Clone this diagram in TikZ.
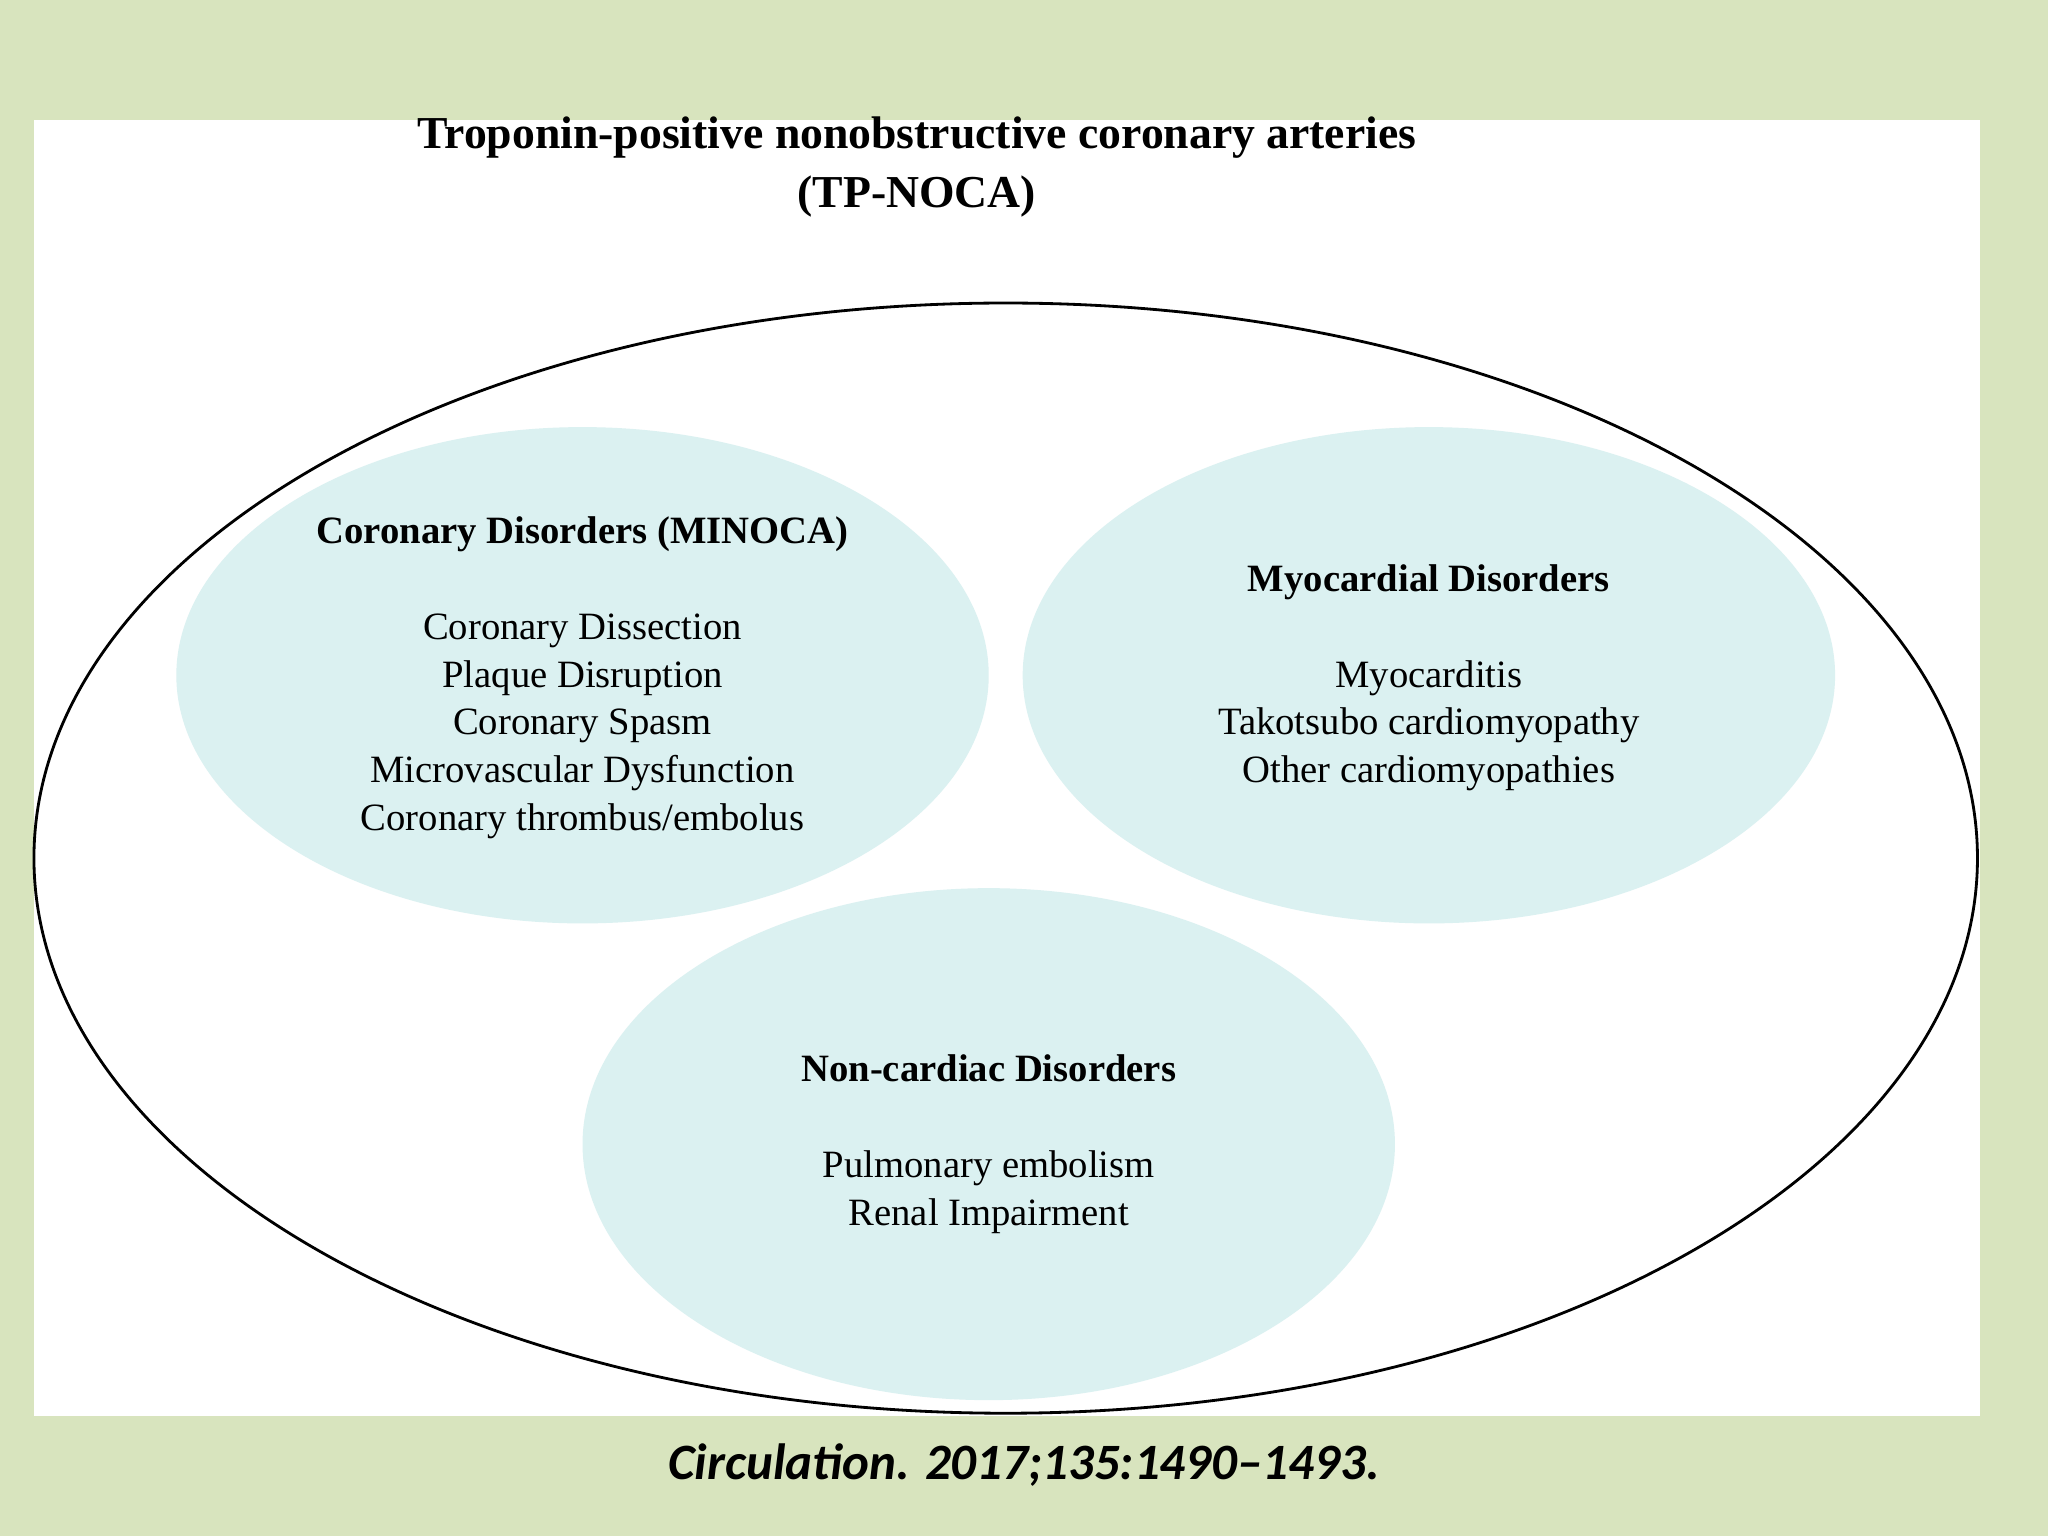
\documentclass[tikz,border=0pt]{standalone}
\usepackage{fontspec}
\setmainfont{Liberation Serif}
\newfontfamily\citefont{Carlito}
\begin{document}
\begin{tikzpicture}[x=0.013061cm,y=-0.013061cm,
  body/.style={align=center,font=\fontsize{11}{13.6}\selectfont,inner sep=0pt}]
\definecolor{bg}{HTML}{D8E4BE}
\definecolor{subfill}{HTML}{DBF1F1}
\fill[bg] (0,0) rectangle (1568,1176);
\useasboundingbox (0,0) rectangle (1568,1176);
\fill[white] (26,92) rectangle (1516,1084);
\node[body,font=\fontsize{13}{16.7}\selectfont\bfseries] (title) at (702,128) {Troponin-positive nonobstructive coronary arteries\\(TP-NOCA)};
\draw[line width=0.8pt] (770,657) ellipse [x radius=744,y radius=425];
\fill[subfill] (446,517) ellipse [x radius=311,y radius=190];
\fill[subfill] (1094,517) ellipse [x radius=311,y radius=190];
\fill[subfill] (757,876) ellipse [x radius=311,y radius=196];
\node[body] (cor) at (446,519) {\textbf{Coronary Disorders (MINOCA)}\\[13.6pt]Coronary Dissection\\Plaque Disruption\\Coronary Spasm\\Microvascular Dysfunction\\Coronary thrombus/embolus};
\node[body] (myo) at (1094,519) {\textbf{Myocardial Disorders}\\[13.6pt]Myocarditis\\Takotsubo cardiomyopathy\\Other cardiomyopathies};
\node[body] (non) at (757,876) {\textbf{Non-cardiac Disorders}\\[13.6pt]Pulmonary embolism\\Renal Impairment};
\node[font=\citefont\fontsize{14.5}{17}\selectfont\bfseries\itshape] (cite) at (784,1122) {Circulation. 2017;135:1490–1493.};
\end{tikzpicture}
\end{document}
